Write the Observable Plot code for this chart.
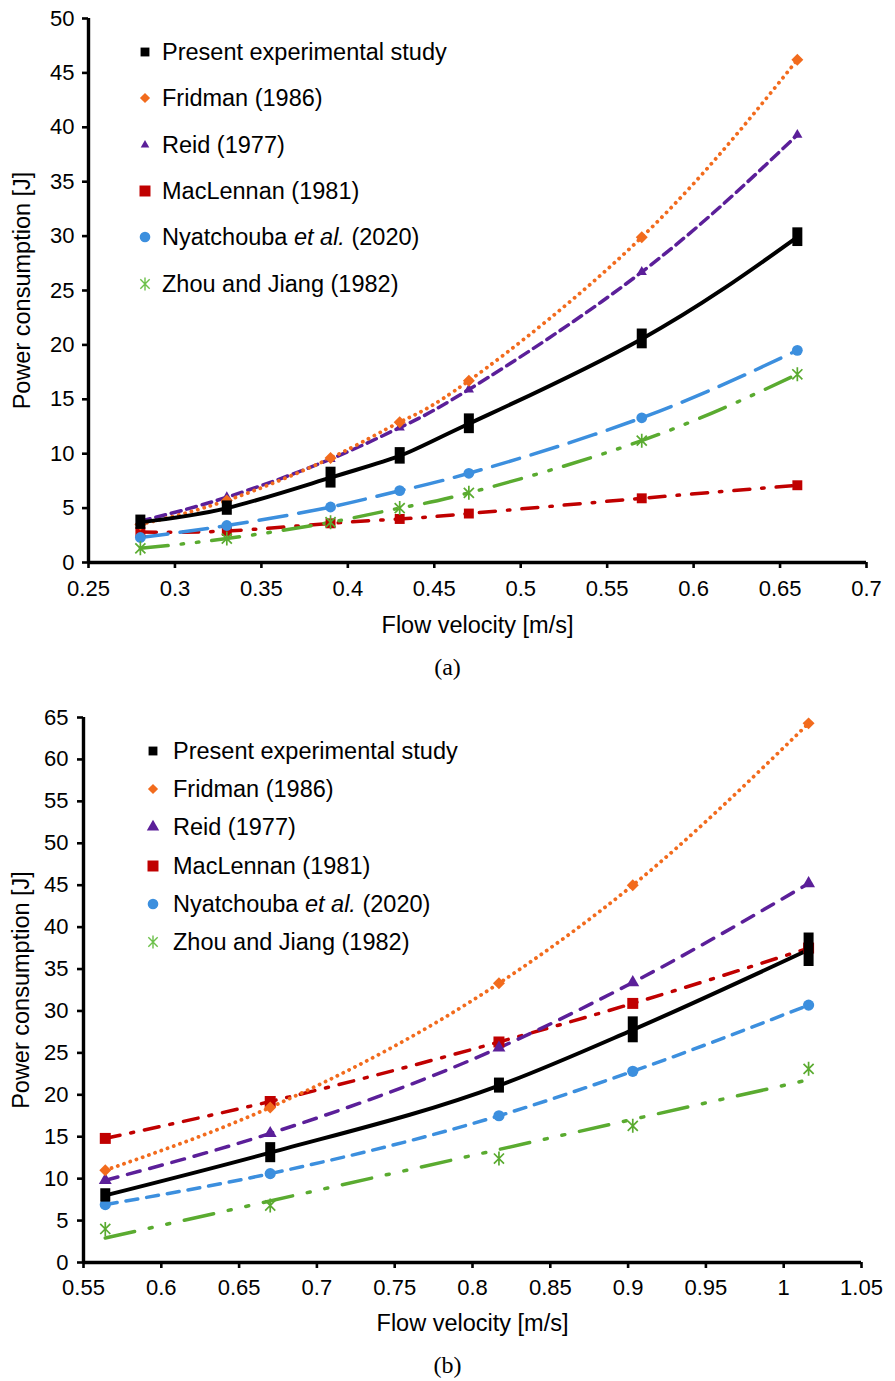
<!DOCTYPE html>
<html><head><meta charset="utf-8">
<script src="https://cdn.jsdelivr.net/npm/d3@7"></script>
<script src="https://cdn.jsdelivr.net/npm/@observablehq/plot@0.6"></script>
<style>
body{margin:0;background:#fff;}
#wrap{position:relative;width:895px;height:1381px;overflow:hidden;font-family:"Liberation Sans",Arial,sans-serif;background:#fff;}
.plot{position:absolute;left:0;}
.row{position:absolute;height:28px;line-height:28px;white-space:nowrap;font-size:23.5px;color:#000;}
.mk{position:absolute;}
.cap{position:absolute;left:0;width:895px;height:30px;line-height:30px;text-align:center;font-family:"Liberation Serif","Times New Roman",serif;font-size:24px;color:#000;}
</style></head><body><div id="wrap"></div>
<script>
// ---------- data ----------
const seriesNames = ["Present experimental study","Fridman (1986)","Reid (1977)","MacLennan (1981)","Nyatchouba et al. (2020)","Zhou and Jiang (1982)"];
const yLabel = "Power consumption [J]";
const xLabel = "Flow velocity [m/s]";
const captions = ["(a)", "(b)"];

// chart (a)
const velA = [0.28, 0.33, 0.39, 0.43, 0.47, 0.57, 0.66];
const presentALo = [3.5, 4.8, 7.3, 9.5, 12.3, 20.1, 29.5];
const presentAHi = [3.9, 5.2, 8.3, 10.1, 13.2, 21.0, 30.3];
const fridmanA = [3.5, 5.7, 9.6, 12.9, 16.7, 29.9, 46.2];
const reidA = [3.8, 6.0, 9.5, 12.4, 15.9, 26.7, 39.3];
const maclennanA = [2.8, 2.9, 3.6, 4.0, 4.5, 5.9, 7.1];
const nyatA = [2.3, 3.4, 5.1, 6.6, 8.2, 13.3, 19.5];
const zhouA = [1.3, 2.2, 3.7, 5.0, 6.4, 11.2, 17.3];
const xTicksA = [0.25, 0.3, 0.35, 0.4, 0.45, 0.5, 0.55, 0.6, 0.65, 0.7];
const yTicksA = [0, 5, 10, 15, 20, 25, 30, 35, 40, 45, 50];

// chart (b)
const velB = [0.564, 0.670, 0.817, 0.903, 1.016];
const presentBLo = [7.8, 12.5, 20.8, 26.8, 35.9];
const presentBHi = [8.2, 13.7, 21.4, 28.7, 38.7];
const fridmanB = [11.0, 18.5, 33.3, 45.0, 64.3];
const reidB = [9.8, 15.4, 25.6, 33.4, 45.2];
const maclennanB = [14.8, 19.2, 26.3, 30.9, 37.5];
const nyatB = [6.9, 10.6, 17.5, 22.8, 30.7];
const zhouB = [4.0, 6.8, 12.4, 16.3, 23.1];
const xTicksB = [0.55, 0.6, 0.65, 0.7, 0.75, 0.8, 0.85, 0.9, 0.95, 1, 1.05];
const yTicksB = [0, 5, 10, 15, 20, 25, 30, 35, 40, 45, 50, 55, 60, 65];

// ---------- styles ----------
const colors = ["#000000", "#f26b1d", "#5b1f99", "#c00000", "#3c8fde", "#5aab30"];
const legendColors = ["#000000", "#f26b1d", "#5b1f99", "#c00000", "#3c8fde", "#6cc04a"];

const asterisk = {
  draw(ctx, size) {
    const r = Math.sqrt(size / Math.PI);
    const d = r * 0.72;
    ctx.moveTo(0, -r); ctx.lineTo(0, r);
    ctx.moveTo(-d, -d); ctx.lineTo(d, d);
    ctx.moveTo(-d, d); ctx.lineTo(d, -d);
  }
};

const wrap = document.getElementById("wrap");

function pts(vel, arr) { return vel.map((x, i) => ({x, y: arr[i]})); }

function makeChart(cfg) {
  const present = cfg.vel.map((x, i) => ({x, lo: cfg.lo[i], hi: cfg.hi[i], y: (cfg.lo[i] + cfg.hi[i]) / 2}));
  const fr = pts(cfg.vel, cfg.fridman), re = pts(cfg.vel, cfg.reid), ma = pts(cfg.vel, cfg.maclennan),
        ny = pts(cfg.vel, cfg.nyat), zh = pts(cfg.vel, cfg.zhou);
  const st = cfg.style;
  const cv = cfg.curve;
  const lw = 3.5;
  const marks = [
    Plot.ruleY([cfg.yTicks[0]], {stroke: "#000", strokeWidth: 3.4}),
    Plot.ruleX([cfg.xTicks[0]], {stroke: "#000", strokeWidth: 3.4}),
    Plot.axisX({ticks: cfg.xTicks, tickSize: 6, tickPadding: cfg.xPad, strokeWidth: 2.6, fontSize: 22, tickFormat: d => String(+d.toFixed(2)), label: null}),
    Plot.axisY({ticks: cfg.yTicks, tickSize: 6, tickPadding: cfg.yPad, strokeWidth: 2.6, fontSize: 22, tickFormat: d => String(d), label: null}),
    Plot.axisX({ticks: [], tickSize: 0, label: xLabel, labelAnchor: "center", labelArrow: "none", labelOffset: cfg.xLabOff, fontSize: 23.5}),
    Plot.axisY({ticks: [], tickSize: 0, label: yLabel, labelAnchor: "center", labelArrow: "none", labelOffset: cfg.yLabOff, fontSize: 23.5}),
    // lines
    Plot.line(ma, {x: "x", y: "y", curve: cv, stroke: colors[3], strokeWidth: lw, strokeDasharray: st.ma}),
    Plot.line(ny, {x: "x", y: "y", curve: cv, stroke: colors[4], strokeWidth: lw, strokeDasharray: st.ny}),
    cfg.zhouLinear
      ? Plot.linearRegressionY(zh, {x: "x", y: "y", stroke: colors[5], strokeWidth: lw, strokeDasharray: st.zh, ci: 0})
      : Plot.line(zh, {x: "x", y: "y", curve: cv, stroke: colors[5], strokeWidth: lw, strokeDasharray: st.zh}),
    Plot.line(re, {x: "x", y: "y", curve: cv, stroke: colors[2], strokeWidth: lw, strokeDasharray: st.re}),
    Plot.line(fr, {x: "x", y: "y", curve: cv, stroke: colors[1], strokeWidth: 3.8, strokeDasharray: st.fr, strokeLinecap: "round"}),
    Plot.line(present, {x: "x", y: "y", curve: cv, stroke: "#000", strokeWidth: 4}),
    // markers
    Plot.dot(ma, {x: "x", y: "y", symbol: "square", r: st.rSq, fill: colors[3], stroke: "none"}),
    Plot.dot(ny, {x: "x", y: "y", symbol: "circle", r: st.rCi, fill: colors[4], stroke: "none"}),
    Plot.dot(zh, {x: "x", y: "y", symbol: asterisk, r: 7, fill: "none", stroke: colors[5], strokeWidth: 1.7}),
    Plot.dot(re, {x: "x", y: "y", symbol: "triangle", r: st.rTr, fill: colors[2], stroke: "none"}),
    Plot.dot(fr, {x: "x", y: "y", symbol: "diamond2", r: 5.4, fill: colors[1], stroke: "none"}),
    Plot.ruleX(present, {x: "x", y1: "lo", y2: "hi", stroke: "#000", strokeWidth: 10, strokeLinecap: "square"})
  ];
  const svg = Plot.plot({
    width: 895, height: cfg.height,
    marginTop: cfg.mt, marginBottom: cfg.mb, marginLeft: cfg.ml, marginRight: cfg.mr,
    x: {domain: [cfg.xTicks[0], cfg.xTicks[cfg.xTicks.length - 1]]},
    y: {domain: [cfg.yTicks[0], cfg.yTicks[cfg.yTicks.length - 1]]},
    style: {fontFamily: "'Liberation Sans', Arial, sans-serif", color: "#000", background: "transparent", overflow: "visible"},
    marks
  });
  svg.classList.add("plot");
  svg.style.top = cfg.top + "px";
  wrap.appendChild(svg);

  // legend
  cfg.legendY.forEach((cy, i) => {
    const mk = document.createElementNS("http://www.w3.org/2000/svg", "svg");
    mk.setAttribute("width", 20); mk.setAttribute("height", 20);
    mk.setAttribute("class", "mk");
    mk.style.left = (cfg.legendX - 10) + "px";
    mk.style.top = (cy - 10) + "px";
    const p = document.createElementNS("http://www.w3.org/2000/svg", "path");
    const types = [d3.symbolSquare, d3.symbolDiamond2, d3.symbolTriangle, d3.symbolSquare, d3.symbolCircle, asterisk];
    const sizes = cfg.legendSizes;
    p.setAttribute("d", d3.symbol(types[i], sizes[i] * sizes[i] * Math.PI)());
    p.setAttribute("transform", "translate(10,10)");
    if (i === 5) { p.setAttribute("fill", "none"); p.setAttribute("stroke", legendColors[i]); p.setAttribute("stroke-width", 1.4); }
    else p.setAttribute("fill", legendColors[i]);
    mk.appendChild(p);
    wrap.appendChild(mk);
    const row = document.createElement("div");
    row.className = "row";
    row.style.left = cfg.legendTextX + "px";
    row.style.top = (cy - 14) + "px";
    row.innerHTML = seriesNames[i].replace("et al.", "<i>et al.</i>");
    wrap.appendChild(row);
  });
  const cap = document.createElement("div");
  cap.className = "cap";
  cap.style.top = (cfg.capY - 15) + "px";
  cap.textContent = cfg.caption;
  wrap.appendChild(cap);
}

makeChart({
  vel: velA, lo: presentALo, hi: presentAHi, fridman: fridmanA, reid: reidA, maclennan: maclennanA, nyat: nyatA, zhou: zhouA,
  xTicks: xTicksA, yTicks: yTicksA, top: 0, height: 645, mt: 18, mb: 83, ml: 88, mr: 29,
  xPad: 12, yPad: 8, xLabOff: 70, yLabOff: 75, zhouLinear: false, curve: "natural",
  style: {fr: "0.1 6.5", re: "10 6", ma: "16 12 2.5 12", ny: "28 12", zh: "28 13 2.5 13 2.5 13", rSq: 5.6, rCi: 5.4, rTr: 3.8},
  legendX: 145, legendTextX: 162, legendY: [52, 98, 145, 191, 237, 284], legendSizes: [5, 4.6, 3.2, 6.2, 5.3, 6.5],
  caption: captions[0], capY: 667
});
makeChart({
  vel: velB, lo: presentBLo, hi: presentBHi, fridman: fridmanB, reid: reidB, maclennan: maclennanB, nyat: nyatB, zhou: zhouB,
  xTicks: xTicksB, yTicks: yTicksB, top: 690, height: 655, mt: 27, mb: 83, ml: 83, mr: 34,
  xPad: 11, yPad: 9, xLabOff: 68, yLabOff: 71, zhouLinear: true, curve: "monotone-x",
  style: {fr: "0.1 6.5", re: "13 10", ma: "15 11 3 11", ny: "12 9", zh: "30 15 3 15 3 15", rSq: 6.2, rCi: 5.6, rTr: 4.8},
  legendX: 153, legendTextX: 173, legendY: [751, 789, 827, 866, 904, 942], legendSizes: [5, 4.6, 4.6, 6.2, 5.3, 6.5],
  caption: captions[1], capY: 1365
});
</script></body></html>
